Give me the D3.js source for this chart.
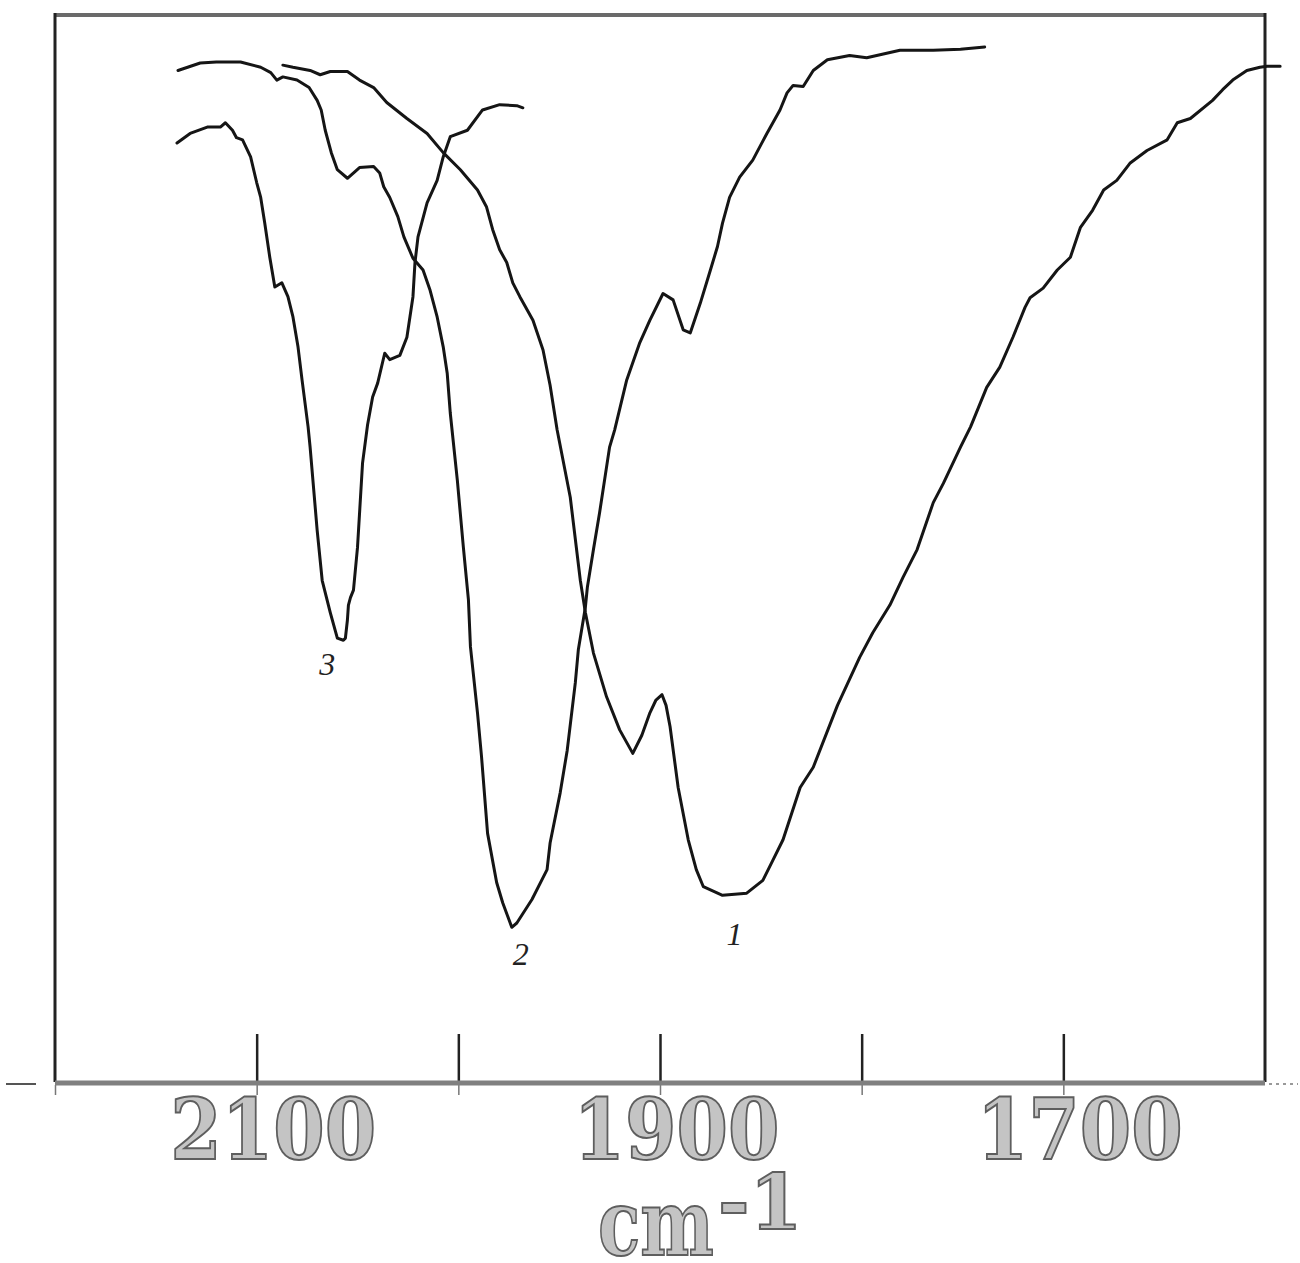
<!DOCTYPE html>
<html>
<head>
<meta charset="utf-8">
<script src="https://cdn.jsdelivr.net/npm/d3@7"></script>
<style>
  html, body { margin: 0; padding: 0; background: #fff; }
  svg { display: block; }
</style>
</head>
<body>
<script>
// ---- data (wavenumber in cm-1, transmittance in % of frame height) ----
const curve1Wn = [2087,2082,2073.5,2068.5,2063.5,2055,2049,2042,2035.5,2025.5,2015.5,2007.5,1999,1990.5,1986,1983,1979.5,1976,1973,1969.5,1963,1958,1954.5,1951,1944.5,1939.5,1937,1933,1926.5,1920,1913.5,1909,1905,1902,1899,1897,1895,1891,1886,1882,1878.5,1869,1857,1849,1844,1839,1830.5,1824,1812,1801,1794.5,1786,1779.5,1772.5,1764.5,1759.5,1751,1746,1738,1731.5,1725,1719,1716.5,1710,1703,1696.5,1691.5,1685.5,1680,1673.5,1667,1658.5,1648.5,1643.5,1637,1626,1621,1616,1609,1602.5,1599,1592.5];
const curve1T  = [95.3,95.1,94.8,94.4,94.7,94.7,93.9,93.2,91.8,90.3,88.9,87.1,85.5,83.6,82.0,79.9,78.0,76.8,74.9,73.6,71.4,68.6,65.3,61.1,54.8,47.0,44.0,40.2,36.1,33.0,30.8,32.5,34.6,35.8,36.3,35.3,33.3,27.6,22.7,19.9,18.3,17.5,17.7,18.9,20.8,22.7,27.6,29.5,35.3,39.8,42.1,44.7,47.3,49.9,54.3,56.1,59.5,61.4,65.1,67.0,69.8,72.6,73.5,74.4,76.1,77.3,80.1,81.7,83.6,84.5,86.1,87.3,88.3,89.9,90.3,92.0,93.0,93.9,94.8,95.1,95.2,95.2];

const curve2Wn = [2139,2128,2120,2108,2098,2093,2090,2087,2080,2074,2070,2068,2066,2063,2060,2055,2049,2042,2039,2037,2034,2030,2027,2022.5,2017.5,2014,2010.5,2007.5,2005.5,2004,2000.5,1997.5,1995,1994,1990.5,1988.5,1985.5,1981,1978,1973.5,1971,1963.5,1956,1954.5,1949.5,1946,1942,1940.5,1937,1936,1933,1930,1925,1922.5,1916.5,1910,1905,1898.5,1893.5,1888.5,1885,1880,1875,1871.5,1869,1865.5,1860.5,1854,1847,1840.5,1837,1834,1829,1824,1817,1806,1797.5,1781,1764.5,1751,1739];
const curve2T  = [94.8,95.5,95.6,95.6,95.1,94.6,93.9,94.2,93.9,93.2,92.0,91.1,89.2,87.1,85.5,84.7,85.7,85.8,85.2,83.9,82.9,81.1,79.2,77.2,76.1,74.2,71.7,68.9,66.4,62.7,56.4,50.1,45.2,40.8,34.6,30.5,23.3,18.7,16.8,14.5,14.9,17.1,19.9,22.4,27.1,31.1,37.4,40.5,44.5,46.4,49.9,53.3,59.5,61.1,65.8,69.3,71.4,73.9,73.3,70.5,70.2,73.0,76.1,78.3,80.5,82.9,84.8,86.4,88.9,91.1,92.7,93.4,93.3,94.8,95.8,96.2,96.0,96.7,96.7,96.8,97.0];

const curve3Wn = [2139.5,2133,2124.5,2118,2115.5,2112,2110,2107,2103,2100,2098,2096,2093.5,2091,2087.5,2084.5,2082,2079.5,2077.5,2074.5,2073.5,2070,2067.5,2063.5,2060,2057,2056,2055,2054.5,2053.5,2052,2050,2047.5,2045,2042.5,2040,2036.5,2034,2029,2025.5,2022.5,2021.5,2020,2015.5,2010.5,2007.5,2004,1995.5,1988,1979.5,1971,1968];
const curve3T  = [88.0,88.9,89.5,89.5,89.9,89.2,88.5,88.3,86.7,84.3,82.9,80.5,77.3,74.5,74.9,73.6,71.7,68.9,65.8,61.4,59.5,51.7,47.0,44.0,41.6,41.4,41.6,43.3,44.7,45.4,46.1,50.1,58.0,61.6,64.2,65.5,68.3,67.7,68.1,69.8,73.6,76.8,79.2,82.4,84.5,86.7,88.6,89.2,91.1,91.6,91.5,91.3];

const tickValues  = [2100, 2000, 1900, 1800, 1700];
const labelValues = [2100, 1900, 1700];
const curveNames  = ["1", "2", "3"];
const curveLabelWn = [1863, 1969, 2065];
const curveLabelT  = [12.8, 11.0, 38.1];

// ---- layout ----
const W = 1300, H = 1263;
const mLeft = 55, mRight = 1265, mTop = 15, mBottom = 1082;

const svg = d3.select("body").append("svg")
  .attr("width", W).attr("height", H);

const x = d3.scaleLinear().domain([2200, 1600]).range([mLeft, mRight]);
const y = d3.scaleLinear().domain([0, 100]).range([mBottom, mTop]);

// frame
svg.append("line").attr("x1", mLeft).attr("x2", mRight).attr("y1", mTop).attr("y2", mTop)
  .attr("stroke", "#6a6a6a").attr("stroke-width", 4);
svg.append("line").attr("x1", mLeft).attr("x2", mLeft).attr("y1", mTop - 2).attr("y2", mBottom)
  .attr("stroke", "#222").attr("stroke-width", 3);
svg.append("line").attr("x1", mRight).attr("x2", mRight).attr("y1", mTop - 2).attr("y2", mBottom)
  .attr("stroke", "#222").attr("stroke-width", 3);

// inner ticks (long, pointing up into the frame)
const innerAxis = d3.axisBottom(x).tickValues(tickValues).tickSize(-48).tickFormat("").tickSizeOuter(0);
const gIn = svg.append("g").attr("transform", `translate(0,${mBottom})`).call(innerAxis);
gIn.select(".domain").remove();
gIn.selectAll(".tick line").attr("stroke", "#222").attr("stroke-width", 2.5);

// outer small ticks
const outerAxis = d3.axisBottom(x).tickValues([2200].concat(tickValues)).tickSize(10).tickFormat("").tickSizeOuter(0);
const gOut = svg.append("g").attr("transform", `translate(0,${mBottom + 3})`).call(outerAxis);
gOut.select(".domain").remove();
gOut.selectAll(".tick line").attr("stroke", "#777").attr("stroke-width", 1.5);

// bottom rule (extends beyond the frame)
svg.append("line").attr("x1", mLeft).attr("x2", mRight).attr("y1", mBottom + 1).attr("y2", mBottom + 1)
  .attr("stroke", "#808080").attr("stroke-width", 5);
svg.append("line").attr("x1", 6).attr("x2", 36).attr("y1", mBottom + 2).attr("y2", mBottom + 2)
  .attr("stroke", "#555").attr("stroke-width", 2);
svg.append("line").attr("x1", mRight + 4).attr("x2", 1298).attr("y1", mBottom + 2).attr("y2", mBottom + 2)
  .attr("stroke", "#999").attr("stroke-width", 2).attr("stroke-dasharray", "3,4");

// tick labels
const labelAxis = d3.axisBottom(x).tickValues(labelValues).tickSize(0).tickFormat(d3.format("d"));
const gLab = svg.append("g").attr("transform", `translate(0,${mBottom})`).call(labelAxis);
gLab.select(".domain").remove();
gLab.selectAll(".tick text")
  .attr("dx", 16).attr("y", 77).attr("dy", 0)
  .attr("font-family", "'DejaVu Serif', serif")
  .attr("font-weight", "bold")
  .attr("font-size", 84)
  .attr("textLength", 206)
  .attr("lengthAdjust", "spacingAndGlyphs")
  .attr("fill", "#c4c4c4")
  .attr("stroke", "#5e5e5e")
  .attr("stroke-width", 2);

// axis title cm^-1
const title = svg.append("text")
  .attr("x", 598).attr("y", 1255)
  .attr("font-family", "'DejaVu Serif', serif")
  .attr("font-weight", "bold")
  .attr("fill", "#c4c4c4").attr("stroke", "#5e5e5e").attr("stroke-width", 2);
title.append("tspan").attr("font-size", 92).attr("textLength", 116).attr("lengthAdjust", "spacingAndGlyphs").text("cm");
title.append("tspan").attr("font-size", 76).attr("dy", -26).attr("dx", 4).text("-1");

// curves
const lineGen = d3.line().x(d => x(d[0])).y(d => y(d[1])).curve(d3.curveLinear);
const series = [
  d3.zip(curve1Wn, curve1T),
  d3.zip(curve2Wn, curve2T),
  d3.zip(curve3Wn, curve3T)
];
svg.append("g").selectAll("path").data(series).join("path")
  .attr("d", lineGen)
  .attr("fill", "none")
  .attr("stroke", "#151515")
  .attr("stroke-width", 3)
  .attr("stroke-linejoin", "round")
  .attr("stroke-linecap", "round");

// handwritten curve labels
svg.append("g").selectAll("text").data(curveNames).join("text")
  .attr("x", (d, i) => x(curveLabelWn[i]))
  .attr("y", (d, i) => y(curveLabelT[i]))
  .attr("text-anchor", "middle")
  .attr("font-family", "'Liberation Serif', serif")
  .attr("font-style", "italic")
  .attr("font-size", 32)
  .attr("fill", "#222")
  .text(d => d);
</script>
</body>
</html>
